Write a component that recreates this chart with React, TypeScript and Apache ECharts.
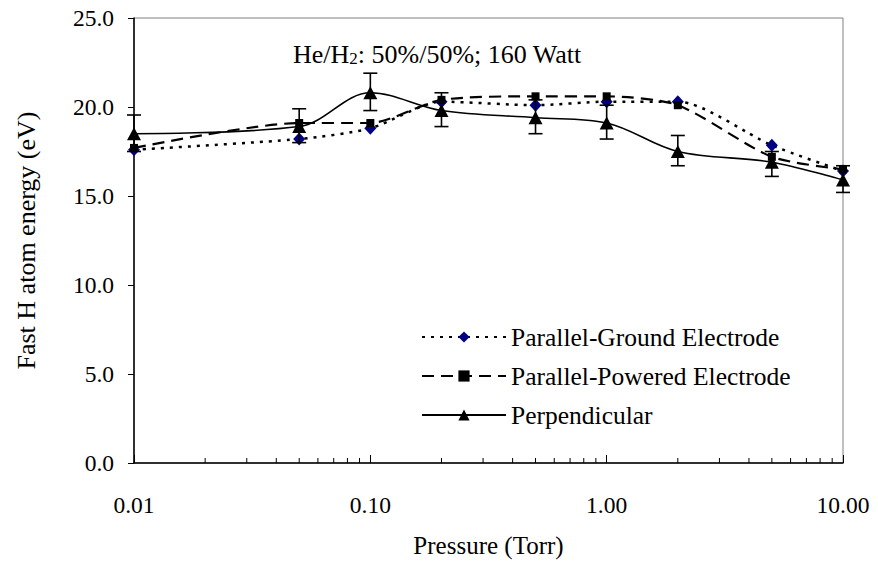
import React, { useEffect, useRef } from "react";
import * as echarts from "echarts";

const pressures = [0.01, 0.05, 0.1, 0.2, 0.5, 1, 2, 5, 10];
const groundEnergy = [17.6, 18.2, 18.8, 20.3, 20.1, 20.3, 20.3, 17.85, 16.4];
const poweredEnergy = [17.7, 19.1, 19.1, 20.4, 20.6, 20.6, 20.1, 17.2, 16.5];
const perpEnergy = [18.5, 18.9, 20.8, 19.8, 19.4, 19.1, 17.5, 16.9, 15.9];
const perpErrLow = [17.5, 18.0, 19.8, 18.9, 18.5, 18.2, 16.7, 16.1, 15.2];
const perpErrHigh = [19.55, 19.9, 21.9, 20.8, 20.4, 20.1, 18.4, 17.5, 16.7];
const minorTickValues = [
  0.02, 0.03, 0.04, 0.05, 0.06, 0.07, 0.08, 0.09,
  0.2, 0.3, 0.4, 0.5, 0.6, 0.7, 0.8, 0.9,
  2, 3, 4, 5, 6, 7, 8, 9,
];
const seriesNames = [
  "Parallel-Ground Electrode",
  "Parallel-Powered Electrode",
  "Perpendicular",
];

export default function App() {
  const ref = useRef<HTMLDivElement>(null);
  useEffect(() => {
    const chart = echarts.init(ref.current!, null, { renderer: "svg" });
    const font = "Liberation Serif";
    const tickFs = 23.5;
    const bigFs = 25.5;
    chart.setOption({
      animation: false,
      backgroundColor: "#fff",
      textStyle: { fontFamily: font },
      grid: {
        left: 134,
        right: 35,
        top: 18,
        bottom: 103,
        show: true,
        borderColor: "#808080",
        borderWidth: 1,
      },
      xAxis: {
        type: "log",
        logBase: 10,
        min: 0.01,
        max: 10,
        name: "Pressure (Torr)",
        nameLocation: "middle",
        nameGap: 70,
        nameTextStyle: { fontFamily: font, fontSize: 25, color: "#000" },
        axisLine: { show: true, lineStyle: { color: "#000", width: 1.5 } },
        axisTick: { show: true, inside: true, length: 8, lineStyle: { color: "#000", width: 1 } },
        axisLabel: {
          fontFamily: font,
          fontSize: tickFs,
          color: "#000",
          margin: 30,
          formatter: (v: number) => v.toFixed(2),
        },
        splitLine: { show: false },
        minorTick: { show: false },
      },
      yAxis: {
        type: "value",
        min: 0,
        max: 25,
        interval: 5,
        name: "Fast H atom energy (eV)",
        nameLocation: "middle",
        nameGap: 95,
        nameTextStyle: { fontFamily: font, fontSize: 26, color: "#000" },
        axisLine: { show: true, lineStyle: { color: "#000", width: 1.5 } },
        axisTick: { show: true, inside: false, length: 6, lineStyle: { color: "#000", width: 1 } },
        axisLabel: {
          fontFamily: font,
          fontSize: tickFs,
          color: "#000",
          margin: 20,
          padding: [7, 0, 0, 0],
          formatter: (v: number) => v.toFixed(1),
        },
        splitLine: { show: false },
      },
      legend: {
        orient: "vertical",
        left: 416,
        top: 319,
        itemWidth: 84,
        itemHeight: 14,
        itemGap: 13,
        data: seriesNames,
        textStyle: { fontFamily: font, fontSize: bigFs, color: "#000" },
      },
      graphic: [
        {
          type: "text",
          left: 293,
          top: 41,
          style: {
            text: "He/H{sub|2}: 50%/50%; 160 Watt",
            fontFamily: font,
            fontSize: 26,
            lineHeight: 26,
            fill: "#000",
            rich: {
              sub: { fontFamily: font, fontSize: 17, verticalAlign: "bottom", lineHeight: 20 },
            },
          },
        },
      ],
      series: [
        {
          type: "custom",
          name: "minorTicks",
          silent: true,
          clip: false,
          data: minorTickValues.map((v) => [v, 0]),
          renderItem: (_p: any, api: any) => {
            const c = api.coord([api.value(0), 0]);
            return {
              type: "line",
              shape: { x1: c[0], y1: c[1], x2: c[0], y2: c[1] - 5 },
              style: { stroke: "#000", lineWidth: 1 },
            };
          },
          z: 1,
        },
        {
          type: "line",
          name: seriesNames[0],
          data: pressures.map((p, i) => [p, groundEnergy[i]]),
          smooth: 0.25,
          symbol: "diamond",
          symbolSize: [12, 13],
          itemStyle: { color: "#000080" },
          lineStyle: { color: "#000", width: 2.5, type: [3, 6] },
          z: 3,
        },
        {
          type: "line",
          name: seriesNames[1],
          data: pressures.map((p, i) => [p, poweredEnergy[i]]),
          smooth: 0.25,
          symbol: "rect",
          symbolSize: 8,
          itemStyle: { color: "#000" },
          lineStyle: { color: "#000", width: 2.2, type: [12, 7] },
          z: 3,
        },
        {
          type: "line",
          name: seriesNames[2],
          data: pressures.map((p, i) => [p, perpEnergy[i]]),
          smooth: 0.35,
          symbol: "triangle",
          symbolSize: [14, 13],
          itemStyle: { color: "#000" },
          lineStyle: { color: "#000", width: 1.6, type: "solid" },
          z: 4,
        },
        {
          type: "custom",
          name: "perpErrors",
          silent: true,
          clip: false,
          data: pressures.map((p, i) => [p, perpErrLow[i], perpErrHigh[i]]),
          encode: { x: 0, y: [1, 2] },
          renderItem: (_p: any, api: any) => {
            const x = api.value(0);
            const lo = api.coord([x, api.value(1)]);
            const hi = api.coord([x, api.value(2)]);
            const hw = 7;
            const style = { stroke: "#000", lineWidth: 1.6 };
            return {
              type: "group",
              children: [
                { type: "line", shape: { x1: lo[0], y1: lo[1], x2: hi[0], y2: hi[1] }, style },
                { type: "line", shape: { x1: lo[0] - hw, y1: lo[1], x2: lo[0] + hw, y2: lo[1] }, style },
                { type: "line", shape: { x1: hi[0] - hw, y1: hi[1], x2: hi[0] + hw, y2: hi[1] }, style },
              ],
            };
          },
          z: 5,
        },
      ],
    });
    return () => chart.dispose();
  }, []);
  return (
    <div
      ref={ref}
      style={{ position: "fixed", left: 0, top: 0, width: 878, height: 566 }}
    />
  );
}
